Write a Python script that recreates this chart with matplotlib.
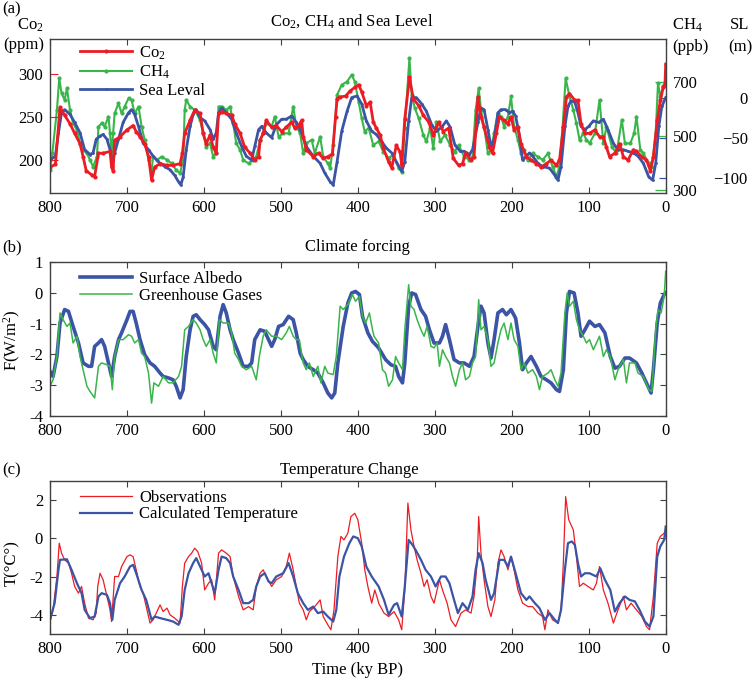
import matplotlib
matplotlib.use('Agg')
import matplotlib.pyplot as plt

plt.rcParams['font.family'] = ['Liberation Serif', 'DejaVu Serif']
plt.rcParams['mathtext.fontset'] = 'custom'
plt.rcParams['mathtext.rm'] = 'Liberation Serif'
plt.rcParams['mathtext.it'] = 'Liberation Serif:italic'
plt.rcParams['font.size'] = 12
plt.rcParams['axes.unicode_minus'] = False

RED = '#ED1C24'
GREEN = '#39B54A'
BLUE = '#3B54A5'
SPINE = '#404040'

# ---------------- data ----------------
x_ticks = [800, 700, 600, 500, 400, 300, 200, 100, 0]

# (a) CO2 (ppm)
t_co2 = [800, 793, 787, 781, 774, 768, 761, 757, 753, 746, 742, 737, 731, 722, 720, 718, 716, 709,
         700, 692, 688, 683, 677, 672, 668, 664, 657, 648, 640, 631, 628, 625, 618, 612, 605, 601,
         597, 592, 588, 584, 581, 577, 571, 564, 560, 553, 547, 540, 534, 529, 527, 523, 519, 512,
         506, 499, 493, 486, 482, 477, 473, 471, 467, 458, 451, 445, 439,
         433, 429, 427, 423, 416, 410, 404, 399, 395, 389, 384, 380, 376, 371, 367, 360, 356, 350,
         345, 343, 339, 334, 333, 328, 321, 315, 308, 302, 295, 289, 282, 276, 269,
         264, 260, 253, 249, 244, 240, 236, 229, 225, 220, 216, 210, 205, 201, 197, 192, 188, 181,
         175, 168, 162, 155, 149, 142, 138, 133, 129, 125, 118, 114, 110, 105, 99, 92, 86, 81, 77,
         73, 66, 60, 55, 49, 42, 38, 31, 25, 20, 16, 11, 7, 3, 1, 0]
co2 = [192, 195, 261, 252, 242, 231, 219, 204, 188, 183, 181, 208, 208, 210, 192, 188, 223, 227,
       235, 240, 233, 227, 219, 204, 177, 192, 196, 194, 194, 196, 208, 231, 246, 258, 254, 231,
       219, 229, 215, 208, 254, 256, 254, 252, 242, 231, 215, 208, 200, 204, 223, 231, 246, 238,
       240, 233, 238, 244, 237, 240, 246, 227, 212, 204, 208, 202, 204,
       207, 250, 271, 273, 274, 280, 284, 287, 279, 263, 267, 244, 237, 229, 214, 198, 191, 217,
       209, 194, 248, 287, 296, 271, 263, 252, 244, 229, 244, 233, 237, 202, 194,
       196, 208, 200, 204, 273, 250, 238, 215, 208, 231, 250, 246, 242, 250, 235, 238, 219, 204,
       200, 196, 192, 196, 200, 194, 200, 238, 273, 277, 269, 269, 242, 231, 231, 235, 227, 227, 215,
       204, 208, 219, 204, 200, 212, 210, 204, 200, 188, 204, 246, 269, 285, 287, 311]

# (a) CH4 (ppb)
t_ch4 = [800, 797, 791, 788, 785, 781, 778, 774, 770, 765, 761, 757, 752, 748, 744, 739, 737, 733,
         729, 724, 722, 720, 718, 716, 711, 707, 703, 698, 694, 690, 685, 681, 677, 672, 668, 666,
         661, 655, 648, 642, 636, 631, 627, 625, 623, 618, 612, 605, 601, 597, 592, 588, 584, 581,
         577, 571, 566, 562, 558, 553, 549, 542, 536, 532, 527, 523, 519, 512, 508, 503, 497, 490,
         484, 480, 475, 471, 467, 460, 456, 449, 445, 439,
         436, 432, 427, 421, 414, 408, 404, 399, 395, 391, 386, 380, 373, 367, 360, 354, 347, 343,
         339, 333, 330, 326, 321, 315, 311, 306, 302, 298, 293, 287, 280, 274, 269,
         262, 255, 251, 247, 243, 240, 236, 231, 227, 223, 218, 214, 210, 205, 201, 197, 192, 188,
         184, 179, 173, 166, 160, 153, 147, 142, 138, 134, 130, 125, 120, 116, 112, 107, 103, 99,
         92, 86, 81, 77, 70, 64, 57, 53, 46, 41, 38, 33, 29, 22, 18, 13, 10, 7, 3, 0]
ch4 = [374, 435, 595, 712, 657, 632, 675, 595, 546, 521, 472, 448, 435, 411, 386, 423, 534, 546,
       534, 571, 509, 435, 509, 583, 620, 583, 608, 638, 632, 583, 608, 534, 485, 411, 374, 423,
       411, 423, 411, 398, 374, 362, 411, 595, 632, 608, 595, 558, 509, 460, 472, 423, 435, 608,
       608, 595, 608, 546, 472, 448, 411, 398, 411, 423, 485, 509, 546, 534, 571, 497, 509, 509,
       608, 534, 509, 435, 472, 485, 435, 497, 423, 398,
       380, 466, 651, 688, 700, 725, 700, 626, 565, 515, 529, 466, 479, 442, 418, 430, 380, 368,
       529, 786, 651, 602, 565, 503, 479, 529, 454, 552, 479, 503, 466, 442, 466,
       423, 411, 423, 595, 675, 595, 534, 435, 448, 509, 583, 571, 534, 571, 645, 534, 485, 435,
       448, 411, 435, 423, 411, 435, 386, 349, 386, 534, 712, 645, 595, 546, 485, 509, 485, 472,
       509, 632, 472, 534, 460, 435, 558, 472, 472, 509, 571, 448, 435, 398, 386, 509, 694, 645,
       682, 706]

# (a) Sea level (m)
t_sl = [800, 793, 789, 785, 781, 774, 768, 761, 755, 748, 744, 740, 735, 731, 726, 722, 719, 716,
        711, 705, 698, 694, 690, 685, 679, 672, 666, 657, 651, 644, 638, 633, 630, 627, 623, 618,
        614, 610, 605, 599, 592, 588, 584, 581, 577, 571, 564, 558, 551, 545, 538, 534, 529, 525,
        519, 512, 506, 499, 493, 486, 480, 473, 467, 458, 449, 443,
        436, 432, 427, 421, 414, 408, 401, 395, 389, 382, 376, 369, 363, 356, 350, 343, 339, 334,
        330, 324, 317, 311, 304, 298, 291, 285, 280, 274, 267,
        262, 255, 251, 244, 240, 236, 231, 227, 223, 218, 214, 208, 203, 199, 195, 190, 186, 181,
        177, 173, 166, 160, 151, 144, 140, 136, 131, 127, 123, 118, 114, 110, 105, 100, 94, 87, 81,
        75, 68, 62, 55, 49, 42, 36, 29, 22, 17, 13, 9, 5, 0]
sl = [-78, -73, -44, -19, -15, -21, -31, -44, -65, -71, -69, -52, -48, -46, -52, -65, -82, -69,
      -52, -31, -19, -15, -21, -36, -57, -65, -73, -82, -86, -90, -97, -105, -109, -99, -65, -36,
      -21, -15, -25, -29, -40, -52, -44, -19, -13, -19, -27, -44, -61, -73, -78, -61, -40, -36,
      -44, -50, -34, -27, -27, -23, -31, -44, -61, -73, -82, -94,
      -105, -109, -80, -42, -17, 0, 2, -8, -29, -42, -46, -55, -63, -69, -80, -92, -80, -29,
      0, 0, -8, -17, -34, -42, -37, -29, -37, -59, -67,
      -67, -71, -65, -31, -13, -15, -40, -61, -52, -19, -15, -15, -19, -17, -23, -48, -78, -73,
      -69, -73, -82, -86, -88, -97, -103, -86, -36, -11, -4, -6, -19, -36, -40, -36, -29, -31, -27,
      -40, -57, -65, -65, -67, -69, -73, -82, -99, -103, -82, -36, -11, 0]
sl_ticks = [-100, -50, 0]
sl_ticklabels = ['\u2212100', '\u221250', '0']

# (b) Surface albedo forcing (W/m2)
t_alb = [800, 796, 791, 787, 781, 776, 770, 763, 757, 750, 746, 742, 737, 733, 729, 724, 720, 716,
         711, 707, 700, 696, 692, 688, 683, 677, 670, 664, 657, 653, 646, 640, 636, 631, 627, 623,
         618, 614, 610, 605, 599, 594, 588, 584, 579, 575, 571, 566, 562, 555, 549, 542, 538, 534,
         527, 521, 516, 512, 508, 503, 497, 490, 484, 480, 475, 471, 465, 458, 452, 445, 439, 434,
         430, 426, 419, 413, 408, 403, 398, 394, 387, 381,
         379, 373, 364, 357, 351, 347, 342, 339, 334, 330, 325, 318, 312, 307, 301, 294, 290, 286,
         281, 275, 268, 262, 255, 249, 244, 240, 236, 231, 227, 223, 218, 212, 207, 201, 195, 190,
         186, 181, 175, 168, 162, 155, 149, 142, 138, 133, 129, 125, 119, 114, 110, 105, 99, 92,
         86, 79, 72, 66, 60, 53, 47, 38, 31, 25, 19, 16, 11, 7, 2, 0]
alb = [-2.55, -2.72, -2.07, -0.98, -0.54, -0.60, -1.09, -1.63, -2.28, -2.39, -2.39, -1.74, -1.63,
       -1.52, -1.74, -2.28, -2.72, -2.07, -1.52, -1.30, -0.87, -0.60, -0.60, -0.98, -1.52, -2.01,
       -2.28, -2.39, -2.61, -2.72, -2.77, -2.83, -3.04, -3.42, -3.15, -2.07, -1.20, -0.76, -0.71,
       -0.87, -1.03, -1.20, -1.74, -1.85, -0.76, -0.38, -0.65, -1.20, -1.52, -1.96, -2.39, -2.39,
       -2.28, -1.52, -1.20, -1.25, -1.52, -1.74, -1.52, -1.09, -1.03, -0.76, -0.87, -1.30, -1.96,
       -2.17, -2.39, -2.50, -2.61, -2.93, -3.26, -3.42, -3.26, -2.28, -1.09, -0.33, 0.0, 0.05,
       -0.05, -0.76, -1.30, -1.58,
       -1.63, -1.79, -2.17, -2.34, -2.39, -2.72, -2.93, -2.28, -0.43, 0.0, -0.05, -0.54, -0.76,
       -1.20, -1.63, -1.63, -1.41, -1.03, -1.52, -2.17, -2.28, -2.28, -2.39, -2.07, -1.09, -0.43,
       -0.65, -1.63, -2.12, -1.52, -0.65, -0.54, -0.71, -0.54, -0.82, -1.63, -2.50, -2.28, -2.07,
       -2.39, -2.72, -2.83, -2.93, -3.15, -3.21, -2.50, -0.65, 0.05, 0.0, -0.65, -1.41, -1.20,
       -0.92, -1.09, -1.03, -1.30, -2.07, -2.45, -2.39, -2.12, -2.12, -2.28, -2.61, -2.93, -3.26,
       -2.50, -0.98, -0.33, -0.05, 0.0]

# (b) Greenhouse gas forcing (W/m2)
t_ghg = [800, 796, 791, 787, 783, 778, 774, 770, 765, 761, 757, 752, 748, 742, 737, 733, 726, 722,
         719, 716, 711, 705, 698, 694, 690, 685, 681, 677, 672, 668, 665, 659, 653, 646, 640, 633,
         629, 625, 620, 614, 610, 605, 601, 597, 592, 588, 584, 580, 575, 568, 564, 560, 555, 551,
         545, 538, 532, 528, 523, 519, 512, 506, 499, 493, 489, 484, 480, 476, 471, 467, 463, 458,
         452, 448, 443, 439, 432, 428, 423, 419, 413, 407, 403, 398, 394, 390, 385, 381,
         379, 373, 368, 364, 360, 355, 351, 347, 342, 339, 334, 331, 327, 323, 318, 314, 310, 305,
         301, 297, 294, 290, 286, 281, 277, 273, 268, 264, 260, 255, 251, 247, 243, 240, 236, 231,
         227, 223, 218, 214, 210, 205, 201, 197, 192, 188, 184, 179, 173, 168, 164, 160, 153, 149,
         144, 140, 136, 131, 128, 125, 120, 116, 112, 107, 103, 99, 94, 90, 86, 81, 77, 72, 66, 62,
         55, 51, 47, 40, 36, 29, 22, 18, 13, 10, 6, 2, 0]
ghg = [-3.04, -2.83, -2.07, -0.65, -0.87, -1.09, -0.98, -1.63, -1.41, -2.07, -2.50, -3.04, -3.21,
       -3.42, -2.39, -2.28, -2.34, -2.39, -3.15, -2.07, -1.52, -1.52, -1.36, -1.41, -1.63, -1.52,
       -1.96, -2.07, -2.61, -3.59, -2.93, -3.04, -2.72, -2.93, -2.93, -2.72, -2.39, -1.20, -1.09,
       -0.87, -0.98, -1.20, -1.52, -1.74, -1.52, -1.96, -2.28, -0.87, -0.98, -0.98, -1.30, -1.96,
       -2.17, -2.39, -2.50, -2.39, -2.83, -2.07, -1.41, -1.20, -1.41, -1.41, -1.52, -1.30, -1.09,
       -1.41, -1.52, -1.52, -2.28, -2.50, -2.28, -2.72, -2.39, -2.93, -2.39, -2.61, -2.66, -2.07,
       -0.43, -0.54, -0.38, -0.05, -0.27, -0.11, -0.76, -0.98, -0.65, -1.20,
       -1.41, -1.63, -2.50, -2.61, -3.04, -2.83, -2.07, -2.28, -2.50, -1.20, 0.27, -0.43, -0.54,
       -0.87, -1.20, -1.41, -1.09, -1.74, -1.79, -1.63, -2.39, -1.85, -2.07, -2.28, -2.72, -3.04,
       -2.50, -2.28, -2.83, -2.72, -2.28, -2.07, -0.22, -1.20, -1.09, -1.52, -2.39, -2.28, -1.63,
       -1.20, -0.98, -1.52, -0.98, -1.52, -1.74, -2.50, -2.28, -2.61, -2.50, -2.72, -3.15, -2.72,
       -2.61, -2.50, -2.83, -3.04, -2.61, -0.65, 0.0, -0.43, -0.27, -0.87, -1.20, -1.41, -1.63,
       -1.52, -1.85, -1.63, -1.41, -2.07, -1.85, -2.07, -2.83, -2.50, -2.17, -2.93, -2.28, -2.28,
       -2.61, -2.72, -3.15, -3.21, -1.20, -0.54, -0.65, -0.11, 0.71]

# (c) Observed temperature change (deg C)
t_obs = [800, 796, 791, 788, 785, 781, 776, 772, 768, 763, 759, 755, 750, 744, 740, 738, 735, 731,
         726, 722, 720, 716, 711, 707, 700, 696, 692, 688, 683, 679, 675, 670, 666, 662, 657, 653,
         648, 644, 638, 631, 628, 625, 620, 616, 612, 608, 603, 599, 594, 590, 586, 581, 577, 571,
         566, 562, 555, 549, 542, 536, 532, 527, 523, 519, 512, 506, 499, 493, 489, 484, 480, 476,
         471, 467, 463, 456, 449, 445, 439, 435, 431, 426, 422, 418, 413, 409, 404, 400, 395, 391,
         387, 382, 378, 374,
         373, 366, 360, 353, 347, 343, 339, 335, 331, 327, 323, 318, 314, 310, 305, 301, 294,
         290, 284, 279, 273, 266, 260, 253, 249, 245, 243, 240, 236, 231, 227, 222, 218, 214, 210,
         205, 201, 197, 192, 186, 179, 173, 166, 160, 157, 153, 147, 140, 136, 133, 130, 126, 120,
         116, 112, 107, 101, 94, 90, 86, 81, 75, 68, 62, 55, 51, 45, 38, 31, 25, 21, 16, 11, 7, 2, 0]
obs = [-4.35, -3.74, -2.0, -0.26, -0.78, -1.13, -1.30, -1.83, -2.52, -2.87, -2.52, -3.39, -4.17,
       -4.26, -3.91, -2.52, -1.83, -2.17, -3.04, -3.74, -4.35, -2.0, -2.0, -1.48, -0.96, -0.87,
       -0.96, -1.65, -2.52, -2.87, -3.57, -4.43, -4.26, -3.91, -3.48, -3.83, -3.65, -4.0, -4.17,
       -4.43, -2.52, -1.30, -0.96, -0.78, -0.52, -0.70, -1.30, -2.70, -2.35, -2.17, -3.22, -0.78,
       -0.61, -0.78, -0.96, -2.0, -3.04, -3.74, -3.57, -3.74, -2.52, -1.83, -1.65, -2.0, -2.52,
       -2.17, -2.0, -1.48, -0.78, -1.65, -2.52, -3.39, -3.74, -4.26, -3.83, -3.57, -3.22, -4.09,
       -4.52, -4.78, -3.74, -0.96, 0.09, -0.09, 0.26, 1.13, 1.30, 0.96, -0.26, -1.65, -2.52, -3.39,
       -2.70, -3.22,
       -3.39, -3.91, -4.09, -3.83, -4.26, -4.78, -2.70, 1.83, 0.43, -0.43, -1.13, -1.83,
       -2.52, -2.17, -3.04, -3.39, -2.17, -2.70, -3.39, -4.26, -4.61, -3.91, -3.74, -3.91, -3.04,
       -1.30, 1.13, -0.78, -2.17, -3.57, -4.09, -3.22, -1.30, -0.61, -0.96, -1.65, -0.96, -1.65,
       -2.70, -3.39, -3.57, -3.57, -3.91, -4.09, -4.78, -3.74, -4.26, -4.43, -3.74, -1.30, 2.17,
       0.96, 0.43, -0.96, -2.52, -2.35, -2.52, -2.70, -2.35, -1.48, -2.70, -3.39, -4.43, -3.74,
       -3.04, -3.74, -3.39, -3.74, -4.09, -4.61, -4.78, -3.04, -0.26, 0.09, 0.26, 0.09]

# (c) Calculated temperature (deg C)
t_calc = [800, 794, 789, 787, 778, 772, 765, 759, 755, 748, 742, 737, 733, 726, 722, 719, 716, 709,
          703, 696, 692, 688, 681, 675, 668, 664, 657, 648, 640, 633, 629, 625, 620, 614, 610, 605,
          599, 594, 590, 586, 581, 577, 571, 566, 562, 555, 549, 542, 536, 532, 527, 521, 516, 512,
          506, 497, 490, 484, 478, 471, 465, 458, 452, 445, 439, 432, 428, 424, 418, 411, 406, 400,
          395, 389, 382, 376,
          373, 366, 360, 353, 349, 343, 339, 334, 329, 325, 318, 312, 305, 299, 292, 286, 281,
          275, 270, 264, 257, 251, 247, 243, 238, 234, 227, 223, 216, 210, 205, 201, 195, 188, 181,
          177, 170, 164, 157, 151, 144, 140, 136, 131, 127, 122, 118, 114, 110, 105, 99, 90, 85, 79,
          72, 66, 60, 53, 47, 40, 34, 27, 21, 16, 11, 7, 2, 0]
calc = [-4.26, -3.39, -1.65, -1.13, -1.10, -1.65, -2.35, -2.87, -3.74, -4.17, -4.09, -3.04, -2.87,
        -2.96, -3.39, -4.26, -3.22, -2.35, -2.0, -1.48, -1.39, -1.83, -2.70, -3.22, -4.26, -4.09,
        -4.17, -4.26, -4.35, -4.52, -4.09, -2.70, -1.83, -1.30, -1.04, -1.48, -2.0, -1.83, -2.35,
        -2.87, -1.65, -0.96, -1.04, -1.30, -2.0, -2.70, -3.39, -3.39, -3.22, -2.52, -2.0, -1.83,
        -2.26, -2.35, -2.0, -1.83, -1.30, -2.0, -2.87, -3.39, -3.74, -3.57, -3.91, -3.83, -4.09,
        -4.35, -3.74, -2.0, -0.96, -0.26, 0.09, 0.0, -0.43, -1.48, -2.0, -2.35,
        -2.52, -3.22, -4.0, -3.48, -3.39, -4.09, -2.52, -0.09, -0.35, -0.61, -1.13, -1.65,
        -2.0, -2.52, -2.0, -2.0, -2.35, -3.22, -3.91, -3.39, -3.74, -3.04, -1.65, -0.78, -1.30,
        -2.17, -3.22, -2.87, -1.13, -1.13, -1.48, -0.96, -1.83, -2.87, -3.22, -3.04, -3.39, -3.65,
        -4.26, -3.91, -4.26, -4.43, -3.74, -1.65, -0.26, -0.17, -0.35, -1.30, -2.0, -1.83, -1.83,
        -2.0, -1.57, -2.17, -2.70, -3.83, -3.39, -3.04, -3.22, -3.30, -3.74, -4.35, -4.61, -4.09,
        -0.96, -0.43, -0.09, 0.61]

# ---------------- figure ----------------
W, H = 753, 679
fig = plt.figure(figsize=(W / 100, H / 100), dpi=100)


def box(x0, y0, x1, y1):
    return [x0 / W, 1 - y1 / H, (x1 - x0) / W, (y1 - y0) / H]


def ftext(x, y, s, **kw):
    fig.text(x / W, 1 - y / H, s, **kw)


def style(ax, right=True):
    for sp in ax.spines.values():
        sp.set_color(SPINE)
        sp.set_linewidth(1.0)
    ax.set_xlim(800, 0)
    ax.set_xticks(x_ticks)
    ax.tick_params(axis='x', direction='in', length=4, width=0.8, top=True, pad=5,
                   labelsize=12, color=SPINE)
    ax.tick_params(axis='y', direction='in', length=4, width=0.8, right=right, pad=5,
                   labelsize=12, color=SPINE)


# ---- panel (a)
ax_a = fig.add_axes(box(50, 39, 665.7, 193))
ax_ch4 = ax_a.twinx()
ax_sl = ax_a.twinx()
ax_a.set_zorder(3)
ax_a.patch.set_visible(False)
ax_sl.set_zorder(2)
ax_ch4.set_zorder(1)

l_ch4, = ax_ch4.plot(t_ch4, ch4, color=GREEN, lw=1.5, marker='.', ms=4)
l_sl, = ax_sl.plot(t_sl, sl, color=BLUE, lw=2.0, marker='.', ms=2)
l_co2, = ax_a.plot(t_co2, co2, color=RED, lw=2.0, marker='.', ms=4)

style(ax_a, right=False)
ax_a.set_ylim(162, 340)
ax_a.set_yticks([200, 250, 300])
ax_a.tick_params(axis='y', color=RED, length=6)

for a in (ax_ch4, ax_sl):
    for sp in a.spines.values():
        sp.set_visible(False)
    a.set_xlim(800, 0)

ax_ch4.set_ylim(289, 857)
ax_ch4.set_yticks([300, 500, 700])
ax_ch4.tick_params(axis='y', direction='in', length=8, width=0.9, color=GREEN, pad=5,
                   labelsize=12)

ax_sl.set_ylim(-119, 73)
ax_sl.set_yticks(sl_ticks)
ax_sl.set_yticklabels(sl_ticklabels)
ax_sl.tick_params(axis='y', direction='in', length=5, width=0.9, color=BLUE, pad=59,
                  labelsize=12)
for lab in ax_sl.get_yticklabels():
    lab.set_horizontalalignment('right')

ax_a.legend([l_co2, l_ch4, l_sl], ['Co$_2$', 'CH$_4$', 'Sea Leval'], loc='upper left',
            bbox_to_anchor=(0.038, 1.01), frameon=False, handlelength=3.1,
            handletextpad=0.45, labelspacing=0.12, borderaxespad=0, numpoints=1,
            fontsize=12)

ftext(2, 9, '(a)', ha='left', va='center')
ftext(352, 21, 'Co$_2$, CH$_4$ and Sea Level', ha='center', va='center')
ftext(44, 25, 'Co$_2$', ha='right', va='center')
ftext(44, 45, '(ppm)', ha='right', va='center')
ftext(672, 25, 'CH$_4$', ha='left', va='center')
ftext(672, 47, '(ppb)', ha='left', va='center')
ftext(740, 25, 'SL', ha='center', va='center')
ftext(740, 47, '(m)', ha='center', va='center')

# ---- panel (b)
ax_b = fig.add_axes(box(50, 262.3, 665.7, 415.7))
l_alb, = ax_b.plot(t_alb, alb, color=BLUE, lw=2.6)
l_ghg, = ax_b.plot(t_ghg, ghg, color=GREEN, lw=1.1)
style(ax_b)
ax_b.set_ylim(-4, 1)
ax_b.set_yticks([-4, -3, -2, -1, 0, 1])
ax_b.legend([l_alb, l_ghg], ['Surface Albedo', 'Greenhouse Gases'], loc='upper left',
            bbox_to_anchor=(0.038, 0.985), frameon=False, handlelength=3.1,
            handletextpad=0.45, labelspacing=0.05, borderaxespad=0, fontsize=12)
ftext(2, 247, '(b)', ha='left', va='center')
ftext(357.5, 247, 'Climate forcing', ha='center', va='center')
ftext(12, 340, 'F(W/m$^2$)', ha='center', va='center', rotation=90)

# ---- panel (c)
ax_c = fig.add_axes(box(50, 480.7, 665.7, 634))
l_obs, = ax_c.plot(t_obs, obs, color=RED, lw=0.9)
l_calc, = ax_c.plot(t_calc, calc, color=BLUE, lw=1.6)
style(ax_c)
ax_c.set_ylim(-5, 3)
ax_c.set_yticks([-4, -2, 0, 2])
ax_c.legend([l_obs, l_calc], ['Observations', 'Calculated Temperature'], loc='upper left',
            bbox_to_anchor=(0.038, 0.985), frameon=False, handlelength=3.1,
            handletextpad=0.45, labelspacing=0.05, borderaxespad=0, fontsize=12)
ftext(2, 470, '(c)', ha='left', va='center')
ftext(349, 470, 'Temperature Change', ha='center', va='center')
ftext(12, 563, 'T(\u00b0C\u00b0)', ha='center', va='center', rotation=90)
ftext(357, 670, 'Time (ky BP)', ha='center', va='center')

fig.savefig('out.png', dpi=100)
